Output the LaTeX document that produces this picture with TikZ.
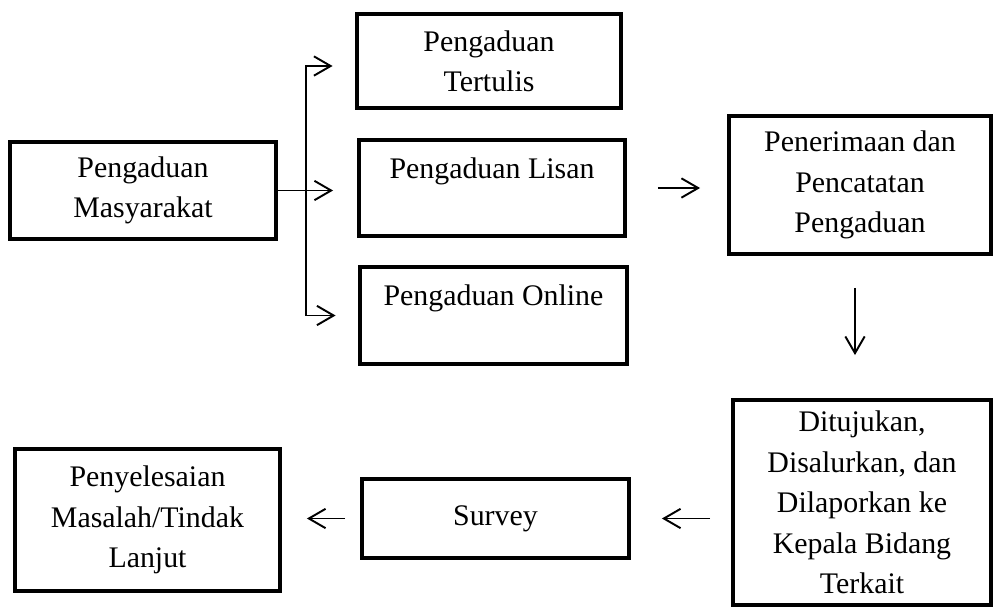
\documentclass[tikz,border=0pt]{standalone}
\usepackage{fontspec}
\setmainfont{Liberation Serif}
\usetikzlibrary{arrows.meta}
\tikzset{
    box/.style={draw, line width=2.2pt, align=center, inner sep=0pt,
        font=\fontsize{17}{23}\selectfont},
    arr/.style={line width=1.1pt, -{Straight Barb[length=9.5pt,width=11pt]}}
}
\begin{document}
\begin{tikzpicture}
    \useasboundingbox (0,0) rectangle (19.88,-12.18);

    %boxes
    \node[box, minimum width=5.32cm, minimum height=1.94cm] (masy) at (2.86,-3.81) {Pengaduan\\Masyarakat};
    \node[box, minimum width=5.28cm, minimum height=1.88cm] (tertulis) at (9.78,-1.22) {Pengaduan\\Tertulis};
    \node[box, minimum width=5.32cm, minimum height=1.92cm] (lisan) at (9.84,-3.76) {Pengaduan Lisan\\\mbox{}};
    \node[box, minimum width=5.34cm, minimum height=1.94cm] (online) at (9.87,-6.31) {Pengaduan Online\\\mbox{}};
    \node[box, minimum width=5.24cm, minimum height=2.76cm] (terima) at (17.2,-3.70) {Penerimaan dan\\Pencatatan\\Pengaduan};
    \node[box, minimum width=5.16cm, minimum height=4.10cm] (tuju) at (17.24,-10.05) {Ditujukan,\\Disalurkan, dan\\Dilaporkan ke\\Kepala Bidang\\Terkait};
    \node[box, minimum width=5.34cm, minimum height=1.58cm] (survey) at (9.91,-10.37) {Survey};
    \node[box, minimum width=5.30cm, minimum height=2.84cm] (selesai) at (2.95,-10.40) {Penyelesaian\\Masalah/Tindak\\Lanjut};

    %fork
    \coordinate (fork) at (6.12,-3.81);
    \draw[arr, shorten >=0.48cm] (masy.east) -- (masy.east -| lisan.west);
    \draw[arr, shorten >=0.45cm] (fork) |- ([yshift=-0.1cm]tertulis.west);
    \draw[arr, shorten >=0.45cm] (fork) |- (online.west);

    %flow
    \draw[arr, shorten <=0.62cm, shorten >=0.54cm] (lisan.east) -- (lisan.east -| terima.west);
    \draw[arr, shorten <=0.64cm, shorten >=0.86cm] ([xshift=-0.1cm]terima.south) -- ([xshift=-0.1cm]terima.south |- tuju.north);
    \draw[arr, shorten <=0.42cm, shorten >=0.62cm] (tuju.west |- survey.east) -- (survey.east);
    \draw[arr, shorten <=0.30cm, shorten >=0.50cm] (survey.west) -- (survey.west -| selesai.east);

\end{tikzpicture}
\end{document}
